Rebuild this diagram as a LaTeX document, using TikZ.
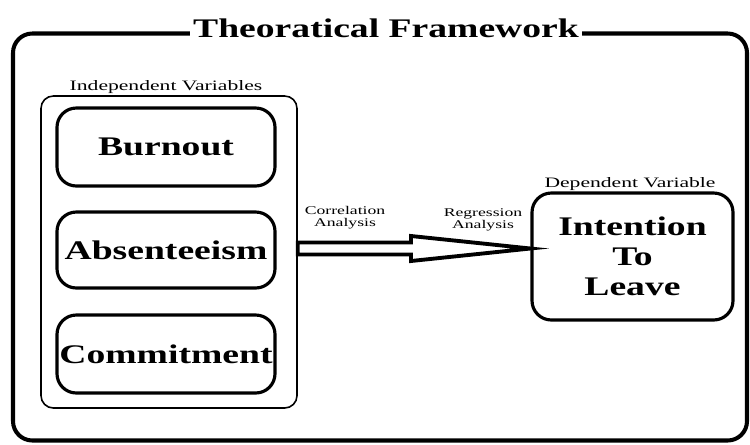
\documentclass[tikz,border=0pt]{standalone}
\usepackage{fontspec}
\setmainfont{Liberation Serif}
\newfontfamily\widebold[FakeStretch=1.4]{Liberation Serif}
\newfontfamily\widereg[FakeStretch=1.5]{Liberation Serif}
\begin{document}
\begin{tikzpicture}[x=0.02cm,y=-0.02cm,
  frame/.style={line width=2.3pt,rounded corners=11pt},
  group/.style={draw,line width=0.9pt,rounded corners=7pt},
  varbox/.style={draw,line width=1.8pt,rounded corners=11pt,minimum width=218*0.02cm,
     font=\widebold\bfseries\fontsize{15.3}{17}\selectfont,inner sep=0pt},
  lab/.style={font=\widereg\fontsize{8.2}{9}\selectfont,inner sep=0pt,anchor=base},
  alab/.style={font=\widereg\fontsize{6.7}{7}\selectfont,inner sep=0pt,align=center},
  bigarrow/.style={draw,fill=white,line width=2.2pt,line join=miter}]
\clip (0,0) rectangle (750,444);
% outer frame
\draw[frame] (13,33.5) rectangle (747,440.5);
\node[font=\widebold\bfseries\fontsize{15.3}{17}\selectfont,fill=white,inner xsep=2pt,inner ysep=1pt,anchor=base] (title) at (386,37) {Theoratical Framework};
% independent group
\node[group,minimum width=256*0.02cm,minimum height=312*0.02cm] (ind) at (169,252) {};
\node[lab] (indlab) at (166,90.5) {Independent Variables};
\node[varbox,minimum height=78*0.02cm] (burn) at (166,147) {Burnout};
\node[varbox,minimum height=76*0.02cm] (abs) at (166,250) {Absenteeism};
\node[varbox,minimum height=78*0.02cm] (com) at (166,354) {Commitment};
% dependent
\node[varbox,minimum width=201*0.02cm,minimum height=127*0.02cm,align=center] (dep) at (632.5,256.5) {Intention\\To\\Leave};
\node[lab] (deplab) at (630,187) {Dependent Variable};
% arrow
\draw[bigarrow] (ind.east |- 0,242.5) -- (411,242.5) -- (411,236) -- (dep.west |- 0,248.5)
  -- (411,261) -- (411,254.5) -- (ind.east |- 0,254.5) -- cycle;
\node[alab] (corr) at (345,218) {Correlation\\Analysis};
\node[alab] (regr) at (483,220) {Regression\\Analysis};
\end{tikzpicture}
\end{document}
